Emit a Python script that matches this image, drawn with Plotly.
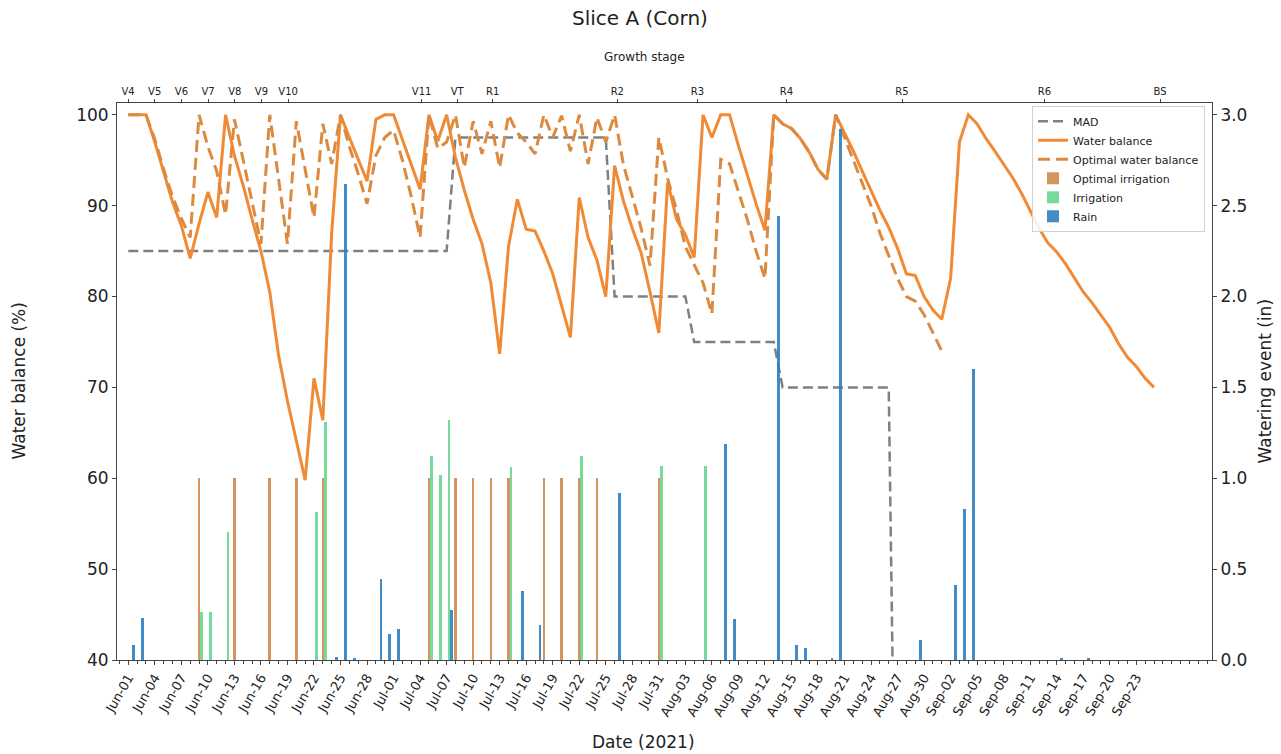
import pandas as pd
import plotly.graph_objects as go

# ---------------- data ----------------
start_date = "2021-06-01"

water_balance = [
    100, 100, 100, 97.0, 93.8, 90.4, 87.8, 84.2, 88.0, 91.5,
    88.7, 100, 95.5, 92.2, 88.5, 85.0, 80.5, 73.5, 68.5, 64.3,
    59.8, 71.0, 66.4, 87.0, 100, 97.5, 95.0, 92.7, 99.5, 100,
    100, 97.3, 94.5, 91.8, 100, 97.1, 100, 95.3, 91.7, 88.5,
    85.8, 81.5, 73.7, 85.5, 90.7, 87.4, 87.2, 85.0, 82.5, 79.0,
    75.5, 90.9, 86.5, 84.0, 80.0, 94.4, 90.5, 87.5, 84.8, 80.5,
    76.0, 92.6, 88.5, 86.8, 84.3, 100, 97.5, 100, 100, 96.6,
    93.4, 90.2, 87.3, 100, 99.0, 98.5, 97.4, 95.9, 94.0, 92.9,
    100, 98.0, 96.0, 93.8, 91.7, 89.5, 87.6, 85.3, 82.5, 82.3,
    80.0, 78.5, 77.5, 82.0, 97.0, 100, 99.0, 97.4, 96.0, 94.6,
    93.1, 91.4, 89.5, 87.5, 85.9, 84.9, 83.6, 82.0, 80.5, 79.3,
    78.0, 76.6, 74.8, 73.3, 72.3, 71.0, 70.0,
]

optimal_water_balance = [
    100, 100, 100, 97.3, 94.0, 91.0, 88.6, 86.5, 100, 96.5,
    93.8, 89.0, 99.5, 95.0, 90.5, 85.8, 100, 93.0, 85.8, 99.3,
    94.0, 88.7, 99.0, 94.6, 100, 96.5, 93.5, 90.2, 95.5, 97.5,
    98.3, 95.0, 91.0, 86.5, 100, 96.3, 97.0, 100, 94.2, 99.3,
    95.7, 99.3, 94.2, 100, 98.0, 97.0, 95.7, 100, 97.5, 99.9,
    96.0, 100, 94.6, 99.7, 97.0, 100, 94.5, 91.0, 87.5, 83.4,
    97.5, 93.0, 89.5, 85.5, 83.5, 81.5, 78.1, 95.1, 94.6, 91.5,
    88.5, 85.0, 82.0, 100, 99.0, 98.5, 97.4, 95.9, 94.0, 92.9,
    100, 97.5, 95.0, 92.5, 90.0, 87.0, 84.5, 82.0, 80.0, 79.5,
    78.0, 76.0, 74.0,
]

mad = [
    85, 85, 85, 85, 85, 85, 85, 85, 85, 85,
    85, 85, 85, 85, 85, 85, 85, 85, 85, 85,
    85, 85, 85, 85, 85, 85, 85, 85, 85, 85,
    85, 85, 85, 85, 85, 85, 85, 97.5, 97.5, 97.5,
    97.5, 97.5, 97.5, 97.5, 97.5, 97.5, 97.5, 97.5, 97.5, 97.5,
    97.5, 97.5, 97.5, 97.5, 97.5, 80, 80, 80, 80, 80,
    80, 80, 80, 80, 75, 75, 75, 75, 75, 75,
    75, 75, 75, 75, 70, 70, 70, 70, 70, 70,
    70, 70, 70, 70, 70, 70, 70, 0,
]

opt_irr_dates = ["2021-06-09", "2021-06-13", "2021-06-17", "2021-06-20", "2021-06-23",
                 "2021-07-05", "2021-07-08", "2021-07-10", "2021-07-12", "2021-07-14",
                 "2021-07-18", "2021-07-20", "2021-07-22", "2021-07-24", "2021-07-31"]
opt_irr_values = [1.0, 1.0, 1.0, 1.0, 1.0, 1.0, 1.0, 1.0, 1.0, 1.0,
                  1.0, 1.0, 1.0, 1.0, 1.0]

irr_dates = ["2021-06-09", "2021-06-10", "2021-06-12", "2021-06-22", "2021-06-23",
             "2021-07-05", "2021-07-06", "2021-07-07", "2021-07-14", "2021-07-22",
             "2021-07-31", "2021-08-05"]
irr_values = [0.265, 0.265, 0.705, 0.815, 1.31, 1.12, 1.02, 1.32, 1.06, 1.12, 1.07, 1.07]

rain_dates = ["2021-06-01", "2021-06-02", "2021-06-24", "2021-06-25", "2021-06-26",
              "2021-06-29", "2021-06-30", "2021-07-01", "2021-07-07", "2021-07-15",
              "2021-07-17", "2021-07-26", "2021-08-07", "2021-08-08", "2021-08-13",
              "2021-08-15", "2021-08-16", "2021-08-19", "2021-08-20", "2021-08-29",
              "2021-09-02", "2021-09-03", "2021-09-04", "2021-09-14", "2021-09-17"]
rain_values = [0.08, 0.23, 0.016, 2.62, 0.01, 0.445, 0.145, 0.17, 0.275, 0.38,
               0.19, 0.92, 1.19, 0.225, 2.445, 0.08, 0.066, 0.01, 2.92, 0.11,
               0.41, 0.83, 1.60, 0.01, 0.01]

stage_names = ["V4", "V5", "V6", "V7", "V8", "V9", "V10", "V11", "VT", "R1",
               "R2", "R3", "R4", "R5", "R6", "BS"]
stage_dates = ["2021-06-01", "2021-06-04", "2021-06-07", "2021-06-10", "2021-06-13",
               "2021-06-16", "2021-06-19", "2021-07-04", "2021-07-08", "2021-07-12",
               "2021-07-26", "2021-08-04", "2021-08-14", "2021-08-27", "2021-09-12",
               "2021-09-25"]

# ---------------- styling ----------------
FONT = "DejaVu Sans"
C_WB = "#f08a35"
C_OWB = "#dc8a40"
C_MAD = "#808080"
C_OPT = "#cf8a4a"
C_IRR = "#5fd48c"
C_RAIN = "#2f7fc0"

DAY_MS = 86400000
BAR_W = 0.3 * DAY_MS

base = pd.Timestamp(start_date)
days_wb = pd.date_range(start_date, periods=len(water_balance), freq="D")
days_owb = pd.date_range(start_date, periods=len(optimal_water_balance), freq="D")
days_mad = pd.date_range(start_date, periods=len(mad), freq="D")

fig = go.Figure()

fig.add_trace(go.Scatter(x=days_mad, y=mad, name="MAD", mode="lines",
                         line=dict(color=C_MAD, width=2.5, dash="10px,5px")))
fig.add_trace(go.Scatter(x=days_wb, y=water_balance, name="Water balance", mode="lines",
                         line=dict(color=C_WB, width=3)))
fig.add_trace(go.Scatter(x=days_owb, y=optimal_water_balance, name="Optimal water balance",
                         mode="lines", line=dict(color=C_OWB, width=3, dash="12px,6px")))

fig.add_trace(go.Bar(x=pd.to_datetime(opt_irr_dates), y=opt_irr_values, name="Optimal irrigation",
                     marker=dict(color=C_OPT, line=dict(width=0)), opacity=0.9,
                     width=BAR_W, offset=-BAR_W / 2, yaxis="y2"))
fig.add_trace(go.Bar(x=pd.to_datetime(irr_dates), y=irr_values, name="Irrigation",
                     marker=dict(color=C_IRR, line=dict(width=0)), opacity=0.85,
                     width=BAR_W, offset=0.28 * DAY_MS - BAR_W / 2, yaxis="y2"))
fig.add_trace(go.Bar(x=pd.to_datetime(rain_dates), y=rain_values, name="Rain",
                     marker=dict(color=C_RAIN, line=dict(width=0)), opacity=0.9,
                     width=BAR_W, offset=0.57 * DAY_MS - BAR_W / 2, yaxis="y2"))

# invisible trace to anchor the growth-stage axis
fig.add_trace(go.Scatter(x=pd.to_datetime(stage_dates), y=[None] * len(stage_dates),
                         xaxis="x2", mode="markers", showlegend=False, hoverinfo="skip"))

x_range = [base + pd.Timedelta(days=-1.278), base + pd.Timedelta(days=122.56)]
x2_range = [base + pd.Timedelta(days=-1.236), base + pd.Timedelta(days=121.84)]
tick_dates = pd.date_range(start_date, "2021-09-23", freq="3D")

axis_line = dict(showline=True, linecolor="#444444", linewidth=1, ticks="outside",
                 tickcolor="#444444", showgrid=False, zeroline=False)

fig.update_layout(
    width=1281, height=754,
    margin=dict(l=117, r=69, t=103, b=94),
    paper_bgcolor="white", plot_bgcolor="white",
    font=dict(family=FONT, color="#222222"),
    barmode="overlay",
    bargap=0,
    showlegend=True,
    legend=dict(x=0.9936, y=0.995, xanchor="right", yanchor="top",
                bgcolor="rgba(255,255,255,0.85)", bordercolor="#d0d0d0", borderwidth=1,
                font=dict(family=FONT, size=11, color="#222222"), tracegroupgap=0),
    xaxis=dict(type="date", range=x_range, tickvals=tick_dates,
               ticktext=[d.strftime("%b-%d") for d in tick_dates], tickangle=-60,
               tickfont=dict(size=13), ticklen=4, mirror=False,
               minor=dict(dtick=DAY_MS, tick0=start_date, ticklen=2.5, ticks="outside",
                          tickcolor="#444444"),
               **axis_line),
    xaxis2=dict(type="date", overlaying="x", side="top", range=x2_range,
                tickvals=pd.to_datetime(stage_dates), ticktext=stage_names,
                tickfont=dict(size=10), ticklen=3.5, anchor="y", **axis_line),
    yaxis=dict(range=[40, 101.3], tickvals=[40, 50, 60, 70, 80, 90, 100],
               tickfont=dict(size=17), ticklen=4, **axis_line),
    yaxis2=dict(range=[0, 3.065], overlaying="y", side="right",
                tickvals=[0, 0.5, 1.0, 1.5, 2.0, 2.5, 3.0],
                ticktext=["0.0", "0.5", "1.0", "1.5", "2.0", "2.5", "3.0"],
                tickfont=dict(size=17), ticklen=4, **axis_line),
)

# titles as annotations placed where they sit in the reference
fig.add_annotation(text="Slice A (Corn)", xref="paper", yref="paper",
                   x=(640 - 117) / 1095, y=1 + (103 - 18) / 557, showarrow=False,
                   font=dict(size=20, family=FONT, color="#222222"), xanchor="center", yanchor="middle")
fig.add_annotation(text="Growth stage", xref="paper", yref="paper",
                   x=(644 - 117) / 1095, y=1 + (103 - 57) / 557, showarrow=False,
                   font=dict(size=12, family=FONT, color="#222222"), xanchor="center", yanchor="middle")
fig.add_annotation(text="Date (2021)", xref="paper", yref="paper",
                   x=(643 - 117) / 1095, y=-(742 - 660) / 557, showarrow=False,
                   font=dict(size=17, family=FONT, color="#222222"), xanchor="center", yanchor="middle")
fig.add_annotation(text="Water balance (%)", xref="paper", yref="paper",
                   x=(18 - 117) / 1095, y=0.5, showarrow=False, textangle=-90,
                   font=dict(size=17, family=FONT, color="#222222"), xanchor="center", yanchor="middle")
fig.add_annotation(text="Watering event (in)", xref="paper", yref="paper",
                   x=(1264 - 117) / 1095, y=0.5, showarrow=False, textangle=-90,
                   font=dict(size=17, family=FONT, color="#222222"), xanchor="center", yanchor="middle")

# remove the default page margin so the figure sits at the window's top-left corner
fig.write_html("out.html", config={"displayModeBar": False},
               post_script="document.body.style.margin='0px';")
